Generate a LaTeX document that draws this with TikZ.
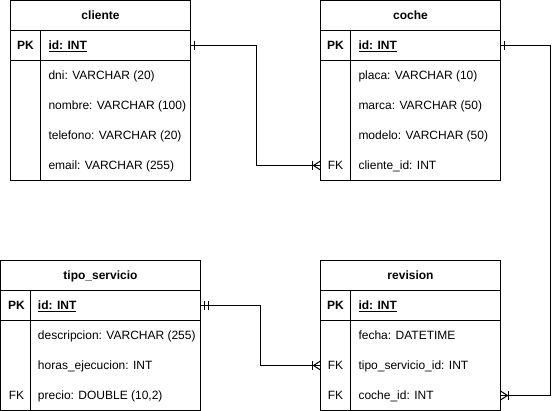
\documentclass[tikz,border=0pt]{standalone}
\usepackage{fontspec}
\setmainfont{Liberation Sans}
\begin{document}
\begin{tikzpicture}[x=1pt,y=-1pt,line width=1pt,
  tbox/.style={draw,line width=1pt,inner sep=0pt,outer sep=0pt,anchor=north west},
  hdr/.style={font=\fontsize{12}{14}\selectfont\bfseries,anchor=base,inner sep=0pt},
  keyt/.style={font=\fontsize{12}{14}\selectfont,anchor=base,inner sep=0pt},
  attr/.style={font=\fontsize{12}{14}\selectfont,anchor=base west,inner sep=0pt},
  conn/.style={line width=1pt},
  mk/.style={line width=1pt}]
\useasboundingbox (-0.5,-0.5) rectangle (559.5,410.5);
\fill[white] (-0.5,-0.5) rectangle (559.5,410.5);
\newcommand{\pkid}{\underline{id: INT}}
% ---------- cliente ----------
\node[tbox,minimum width=180pt,minimum height=180pt] (cliente) at (10,0) {};
\draw (10,30) -- (190,30) (10,60) -- (190,60) (40,30) -- (40,180);
\node[hdr] (clienteh) at (100,19.5) {cliente};
\node[keyt,font=\fontsize{12}{14}\selectfont\bfseries] (clientepkk) at (25,49.5) {PK};
\node[attr,font=\fontsize{12}{14}\selectfont\bfseries] (clienteid) at (47.5,49.5) {\pkid};
\node[attr] (clientea) at (47.5,79.5) {dni: VARCHAR (20)};
\node[attr] (clienteb) at (47.5,109.5) {nombre: VARCHAR (100)};
\node[attr] (clientec) at (47.5,139.5) {telefono: VARCHAR (20)};
\node[attr] (cliented) at (47.5,169.5) {email: VARCHAR (255)};
\coordinate (clientepk) at (190,45);
% ---------- coche ----------
\node[tbox,minimum width=180pt,minimum height=180pt] (coche) at (320,0) {};
\draw (320,30) -- (500,30) (320,60) -- (500,60) (350,30) -- (350,180);
\node[hdr] (cocheh) at (410,19.5) {coche};
\node[keyt,font=\fontsize{12}{14}\selectfont\bfseries] (cochepkk) at (335,49.5) {PK};
\node[attr,font=\fontsize{12}{14}\selectfont\bfseries] (locheid) at (357.5,49.5) {\pkid};
\node[attr] (cochea) at (357.5,79.5) {placa: VARCHAR (10)};
\node[attr] (cocheb) at (357.5,109.5) {marca: VARCHAR (50)};
\node[attr] (cochec) at (357.5,139.5) {modelo: VARCHAR (50)};
\node[keyt] (cochefk) at (335,169.5) {FK};
\node[attr] (cocheclid) at (357.5,169.5) {cliente\_id: INT};
\coordinate (cochepk) at (500,45);
\coordinate (cochefkin) at (320,165);
% ---------- tipo_servicio ----------
\node[tbox,minimum width=200pt,minimum height=150pt] (tipo) at (0,260) {};
\draw (0,290) -- (200,290) (0,320) -- (200,320) (30,290) -- (30,410);
\node[hdr] (tipoh) at (100,279.5) {tipo\_servicio};
\node[keyt,font=\fontsize{12}{14}\selectfont\bfseries] (tipopkk) at (16,309.5) {PK};
\node[attr,font=\fontsize{12}{14}\selectfont\bfseries] (tipoid) at (37,309.5) {\pkid};
\node[attr] (tipoa) at (37,339.5) {descripcion: VARCHAR (255)};
\node[attr] (tipob) at (37,369.5) {horas\_ejecucion: INT};
\node[keyt] (tipofk) at (16,399.5) {FK};
\node[attr] (tipoc) at (37,399.5) {precio: DOUBLE (10,2)};
\coordinate (tipopk) at (200,305);
% ---------- revision ----------
\node[tbox,minimum width=180pt,minimum height=150pt] (revision) at (320,260) {};
\draw (320,290) -- (500,290) (320,320) -- (500,320) (350,290) -- (350,410);
\node[hdr] (revh) at (410,279.5) {revision};
\node[keyt,font=\fontsize{12}{14}\selectfont\bfseries] (revpkk) at (335,309.5) {PK};
\node[attr,font=\fontsize{12}{14}\selectfont\bfseries] (revid) at (357.5,309.5) {\pkid};
\node[attr] (reva) at (357.5,339.5) {fecha: DATETIME};
\node[keyt] (revfk1) at (335,369.5) {FK};
\node[attr] (revb) at (357.5,369.5) {tipo\_servicio\_id: INT};
\node[keyt] (revfk2) at (335,399.5) {FK};
\node[attr] (revc) at (357.5,399.5) {coche\_id: INT};
\coordinate (revtipo) at (320,365);
\coordinate (revcoche) at (500,395);
% ---------- connectors ----------
\draw[conn] (clientepk) -- (255.5,45) |- (cochefkin);
\draw[conn] (cochepk) -- (550,45) |- (revcoche);
\draw[conn] (tipopk) -- (260,305) |- (revtipo);
% ---------- markers ----------
% one at cliente
\draw[mk] ([xshift=4pt]clientepk) ++(0,-4.5) -- ++(0,9);
% one at coche
\draw[mk] ([xshift=4pt]cochepk) ++(0,-4.5) -- ++(0,9);
% mandatory one at tipo_servicio
\draw[mk] ([xshift=4pt]tipopk) ++(0,-4.5) -- ++(0,9);
\draw[mk] ([xshift=8pt]tipopk) ++(0,-4.5) -- ++(0,9);
% one-to-many at coche cliente_id
\draw[mk] ([xshift=-8pt]cochefkin) ++(0,-4.5) -- ++(0,9);
\draw[mk] ([xshift=-7pt]cochefkin) -- ++(7,-4.5);
\draw[mk] ([xshift=-7pt]cochefkin) -- ++(7,4.5);
% one-to-many at revision tipo_servicio_id
\draw[mk] ([xshift=-8pt]revtipo) ++(0,-4.5) -- ++(0,9);
\draw[mk] ([xshift=-7pt]revtipo) -- ++(7,-4.5);
\draw[mk] ([xshift=-7pt]revtipo) -- ++(7,4.5);
% one-to-many at revision coche_id
\draw[mk] ([xshift=8pt]revcoche) ++(0,-4.5) -- ++(0,9);
\draw[mk] ([xshift=7pt]revcoche) -- ++(-7,-4.5);
\draw[mk] ([xshift=7pt]revcoche) -- ++(-7,4.5);
\end{tikzpicture}
\end{document}
